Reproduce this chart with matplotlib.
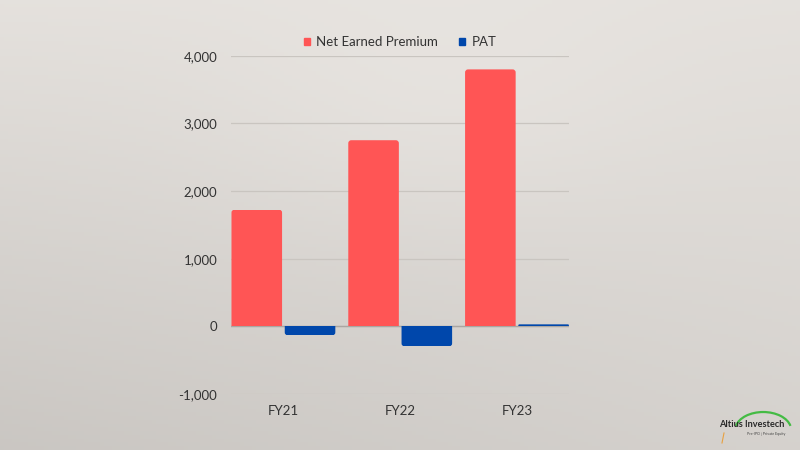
import numpy as np
import matplotlib
matplotlib.use("Agg")
import matplotlib.pyplot as plt
from matplotlib.patches import Arc, FancyBboxPatch, Rectangle

# chart data
years = ["FY21", "FY22", "FY23"]
net_earned_premium = [1726, 2752, 3799]
pat = [-133, -296, 30]
y_ticks = [-1000, 0, 1000, 2000, 3000, 4000]

RED = "#FF5555"
BLUE = "#0047AB"
TEXT = "#333333"

plt.rcParams['font.family'] = ['Lato', 'DejaVu Sans']

fig = plt.figure(figsize=(8, 4.5), dpi=100)

# stone-like grey background: lighter top, darker lower left
bg = fig.add_axes([0, 0, 1, 1], zorder=-10)
gx, gy = np.meshgrid(np.linspace(0, 1, 200), np.linspace(0, 1, 120))
shade = 0.885 - 0.06 * gy - 0.045 * (1 - gx) * gy + 0.02 * np.exp(-((gx - 0.55) ** 2 + (gy - 0.25) ** 2) / 0.08)
rgb = np.dstack([shade + 0.012, shade - 0.002, shade - 0.018])
bg.imshow(np.clip(rgb, 0, 1), aspect='auto', extent=[0, 1, 0, 1], origin='upper')
bg.set_xlim(0, 1)
bg.set_ylim(0, 1)
bg.axis('off')

ax = fig.add_axes([0.289, 0.1244, 0.4225, 0.7516])
ax.patch.set_alpha(0)

x = np.arange(len(years))
w = 0.433
off = 0.228
bars1 = ax.bar(x - off, net_earned_premium, w, color=RED, label="Net Earned Premium", zorder=3)
bars2 = ax.bar(x + off, pat, w, color=BLUE, label="PAT", zorder=3)

ax.set_xlim(-0.447, 2.447)
ax.set_ylim(-1000, 4000)

# round the outer corners of each bar (about 3 px), keep the base square
px_x = 116.7          # pixels per x unit
px_y = 270.3 / 4000   # pixels per y unit
r_px = 3.0
for rect in list(bars1) + list(bars2):
    bx, by = rect.get_x(), rect.get_y()
    bw, bh = rect.get_width(), rect.get_height()
    r = min(r_px, abs(bh) * px_y / 2)
    if r < 0.5:
        continue
    ext = 2 * r / px_y
    if bh > 0:
        lo, hi = by - ext, by + bh
    else:
        lo, hi = by + bh, by + ext
    box = FancyBboxPatch((bx, lo), bw, hi - lo,
                         boxstyle=f"round,pad=0,rounding_size={r / px_x}",
                         mutation_aspect=(1 / px_y) / (1 / px_x),
                         facecolor=rect.get_facecolor(), edgecolor='none', zorder=3)
    ax.add_patch(box)
    clip_lo = by if bh > 0 else by + bh - 1
    clip = Rectangle((bx - 0.05, clip_lo), bw + 0.1, abs(bh) + 1, transform=ax.transData)
    box.set_clip_path(clip)
    rect.set_visible(False)

ax.set_yticks(y_ticks)
ax.set_yticklabels([f"{v:,}" for v in y_ticks])
ax.set_xticks(x)
ax.set_xticklabels(years)
ax.tick_params(length=0, labelsize=9.5, colors=TEXT)
ax.tick_params(axis='y', pad=10)
ax.tick_params(axis='x', pad=8)

ax.grid(axis='y', color='#c9c5c0', linewidth=0.9, zorder=0)
ax.axhline(0, color='#aaa6a2', linewidth=1.0, zorder=2)
for s in ax.spines.values():
    s.set_visible(False)

h1 = Rectangle((0, 0), 1, 1, color=RED)
h2 = Rectangle((0, 0), 1, 1, color=BLUE)
ax.legend(handles=[h1, h2], labels=["Net Earned Premium", "PAT"],
          loc='lower center', bbox_to_anchor=(0.5, 1.0), ncol=2, frameon=False,
          fontsize=9.5, handlelength=0.45, handleheight=0.45, handletextpad=0.5,
          columnspacing=1.6, labelcolor=TEXT, borderaxespad=0.2)

# logo bottom right
fig.text(0.899, 0.0556, "Altius Investech", fontsize=6.6, color='#2a2a2a',
         ha='left', va='center', fontweight='bold')
fig.text(0.982, 0.036, "Pre-IPO | Private Equity", fontsize=2.6, color='#444444',
         ha='right', va='center')
bg.add_patch(Arc((0.954, 0.0444), 0.07, 0.08, theta1=15, theta2=165,
                 color='#44bb44', linewidth=1.6))
bg.plot([0.9025, 0.905], [0.0156, 0.0378], color='#e8a040', linewidth=0.8)

fig.savefig("out.png", dpi=100)
